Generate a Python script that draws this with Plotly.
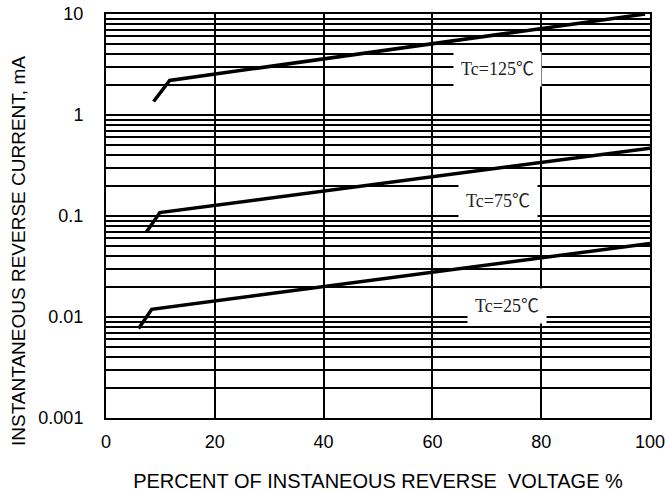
import math
import plotly.graph_objects as go

# Data
x_125 = [8.75, 11.7, 99.1]
y_125 = [1.36, 2.20, 10.0]
x_75 = [7.4, 9.9, 100.0]
y_75 = [0.069, 0.108, 0.47]
x_25 = [6.0, 8.4, 100.0]
y_25 = [0.0077, 0.0119, 0.0535]

x_ticks = [0, 20, 40, 60, 80, 100]
y_ticks = [0.001, 0.01, 0.1, 1, 10]
y_tick_labels = ["0.001", "0.01", "0.1", "1", "10"]
minor_vals = [m * 10 ** e for e in range(-3, 1) for m in range(2, 10)]

labels = ["Tc=125℃", "Tc=75℃", "Tc=25℃"]
label_x = [72.0, 72.0, 73.7]
label_y = [2.85, 0.141, 0.0128]

fig = go.Figure()
for xs, ys in [(x_125, y_125), (x_75, y_75), (x_25, y_25)]:
    fig.add_trace(go.Scatter(x=xs, y=ys, mode="lines",
                             line=dict(color="black", width=3.5),
                             showlegend=False, hoverinfo="skip"))

for t, lx, ly in zip(labels, label_x, label_y):
    fig.add_annotation(x=lx, y=math.log10(ly), yref="y", xref="x", text=t, showarrow=False,
                       font=dict(family="Liberation Serif, Noto Sans CJK SC, serif",
                                 size=18, color="#222"),
                       bgcolor="white", borderpad=7)

# y-axis title as a paper annotation to match its off-centre placement
fig.add_annotation(x=-0.162, y=0.413, xref="paper", yref="paper",
                   xanchor="center", yanchor="middle",
                   text="INSTANTANEOUS REVERSE CURRENT, mA", textangle=-90,
                   showarrow=False, font=dict(size=19, color="black"))

fig.update_layout(
    width=665, height=492,
    margin=dict(l=106, r=15, t=14, b=74),
    paper_bgcolor="white", plot_bgcolor="white",
    font=dict(family="Liberation Sans, Arial, sans-serif", size=18, color="black"),
    xaxis=dict(range=[0, 100], tickvals=x_ticks, ticktext=[str(v) for v in x_ticks],
               showgrid=True, gridcolor="black", gridwidth=2,
               showline=True, linecolor="black", linewidth=2, mirror=True,
               ticks="", zeroline=False, automargin=False, ticklabeloverflow="allow",
               ticklabelstandoff=6,
               title=dict(text="PERCENT OF INSTANEOUS REVERSE  VOLTAGE %", standoff=28,
                          font=dict(size=20))),
    yaxis=dict(type="log", range=[-3, 1], tickvals=y_ticks, ticktext=y_tick_labels,
               showgrid=True, gridcolor="black", gridwidth=2,
               showline=True, linecolor="black", linewidth=2, mirror=True,
               ticks="", ticklabelstandoff=17, automargin=False, ticklabeloverflow="allow",
               minor=dict(tickvals=minor_vals, showgrid=True, gridcolor="black",
                          gridwidth=2, ticks="")),
)

fig.write_html("out.html", config={"displayModeBar": False},
               post_script="document.body.style.margin='0';document.body.style.overflow='hidden';")
